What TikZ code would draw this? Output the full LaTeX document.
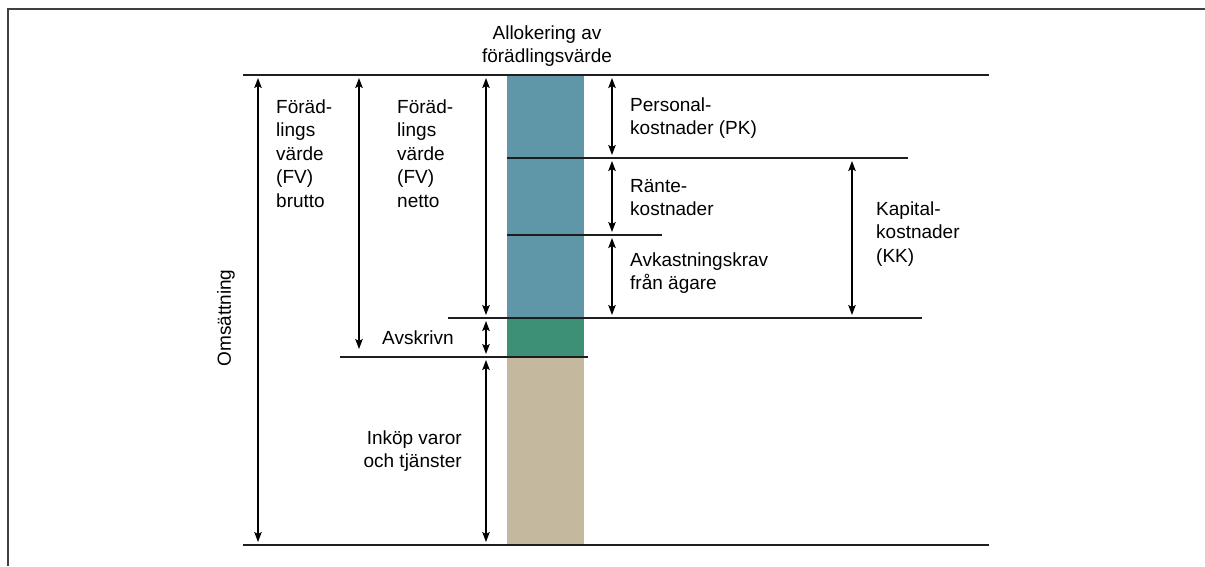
\documentclass[tikz,border=0pt]{standalone}
\usepackage{fontspec}
\setmainfont{Liberation Sans}
\usepackage{tikz}
\usetikzlibrary{calc}
\usetikzlibrary{arrows.meta}
\definecolor{capblue}{HTML}{6097A8}
\definecolor{depgreen}{HTML}{3D8F76}
\definecolor{buybeige}{HTML}{C4B89E}
\definecolor{linegray}{HTML}{1E1E1E}
\tikzset{
	level/.style={draw=linegray,line width=2.6pt},
	span/.style={draw=black,line width=1.4pt,{Stealth[length=10pt,width=7.5pt,inset=2pt]}-{Stealth[length=10pt,width=7.5pt,inset=2pt]},shorten <=3pt,shorten >=3pt},
	lbl/.style={inner sep=0pt,font=\fontsize{19}{23.5}\selectfont,align=left,anchor=base west},
}

\begin{document}
\begin{tikzpicture}[x=1pt,y=-1pt]
		\useasboundingbox (0,0) rectangle (1205,566);
		\draw[draw=black!75,line width=2pt] (8,566) -- (8,9) -- (1205,9);
		\fill[capblue] (507,75) rectangle (584,318);
		\fill[depgreen] (507,318) rectangle (584,357);
		\fill[buybeige] (507,357) rectangle (584,545);
		\coordinate (topl) at (243,75);
		\coordinate (topr) at (989,75);
		\coordinate (botl) at (243,545);
		\coordinate (botr) at (989,545);
		\coordinate (pkl) at (507,158);
		\coordinate (pkr) at (908,158);
		\coordinate (rtl) at (507,235);
		\coordinate (rtr) at (662,235);
		\coordinate (kkl) at (448,318);
		\coordinate (kkr) at (922,318);
		\coordinate (avl) at (340,357);
		\coordinate (avr) at (588,357);
		\draw[level] (topl) -- (topr);
		\draw[level] (botl) -- (botr);
		\draw[level] (pkl) -- (pkr);
		\draw[level] (rtl) -- (rtr);
		\draw[level] (kkl) -- (kkr);
		\draw[level] (avl) -- (avr);
		\coordinate (oms) at (258,0);
		\coordinate (bru) at (359,0);
		\coordinate (net) at (486,0);
		\coordinate (alo) at (612,0);
		\coordinate (kap) at (852,0);
		\draw[span] (oms |- topl) -- (oms |- botl);
		\draw[span,shorten >=8pt] (bru |- topl) -- (bru |- avl);
		\draw[span] (net |- topl) -- (net |- kkl);
		\draw[span] (net |- kkl) -- (net |- avl);
		\draw[span] (net |- avl) -- (net |- botl);
		\draw[span] (alo |- topl) -- (alo |- pkl);
		\draw[span] (alo |- pkl) -- (alo |- rtl);
		\draw[span] (alo |- rtl) -- (alo |- kkl);
		\draw[span] (kap |- pkl) -- (kap |- kkl);
		\node[lbl,align=center,anchor=base] (alloc) at (547,62.5) {Allokering av\\förädlingsvärde};
		\node[lbl] (brutto) at (276,207) {Föräd-\\lings\\värde\\(FV)\\brutto};
		\node[lbl] (netto) at (397,207) {Föräd-\\lings\\värde\\(FV)\\netto};
		\node[lbl] (pers) at (630,134.5) {Personal-\\kostnader (PK)};
		\node[lbl] (rante) at (630,215.5) {Ränte-\\kostnader};
		\node[lbl] (avkr) at (630,289.5) {Avkastningskrav\\från ägare};
		\node[lbl] (kapk) at (876,262) {Kapital-\\kostnader\\(KK)};
		\node[lbl] (avskr) at (382,344) {Avskrivn};
		\node[lbl,align=right,anchor=base east] (inkop) at (462,467.5) {Inköp varor\\och tjänster};
		\node[lbl,anchor=center,rotate=90] (omsat) at (226,318) {Omsättning};
	\end{tikzpicture}
\end{document}
